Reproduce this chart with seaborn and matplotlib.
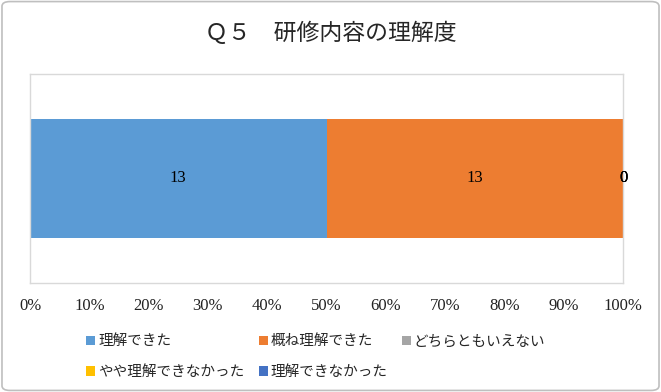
import numpy as np
import pandas as pd
import matplotlib
matplotlib.use("Agg")
import matplotlib.pyplot as plt
from matplotlib.patches import FancyBboxPatch, Patch
import seaborn as sns

# data
categories = ["理解できた", "概ね理解できた", "どちらともいえない", "やや理解できなかった", "理解できなかった"]
counts = [13, 13, 0, 0, 0]
colors = ["#5B9BD5", "#ED7D31", "#A5A5A5", "#FFC000", "#4472C4"]
xticks = [0, 10, 20, 30, 40, 50, 60, 70, 80, 90, 100]
title = "Ｑ５　研修内容の理解度"

sns.set_theme(style="white")
plt.rcParams['font.family'] = ['Liberation Serif', 'Noto Sans CJK JP', 'DejaVu Sans']

total = sum(counts)
df = pd.DataFrame({"label": categories, "count": counts})
df["pct"] = df["count"] / total * 100
df["left"] = df["pct"].cumsum() - df["pct"]
df["row"] = "Q5"

fig = plt.figure(figsize=(6.61, 3.92), dpi=100)
ax = fig.add_axes([30 / 661, 1 - 283 / 392, 593 / 661, 209 / 392])

for i, r in df.iterrows():
    sns.barplot(x=[r["pct"]], y=[r["row"]], orient="h", color=colors[i], saturation=1,
                left=r["left"], width=0.574, ax=ax, linewidth=0)
    ax.bar_label(ax.containers[-1], labels=[str(r["count"])], label_type="center",
                 fontsize=12, color="black")

ax.set_xlim(0, 100)
ax.set_ylim(0.5, -0.5)
ax.set_xticks(xticks)
ax.set_xticklabels([f"{t}%" for t in xticks], fontsize=12, color="#222222")
ax.tick_params(axis="x", length=0, pad=11)
ax.set_yticks([])
ax.set_xlabel("")
ax.set_ylabel("")
for s in ax.spines.values():
    s.set_color("#D9D9D9")
    s.set_linewidth(1)

fig.text(0.5, 1 - 33 / 392, title, ha="center", va="center", fontsize=16.5,
         family=['Noto Sans CJK JP'], color="#262626")

# legend filled row by row (matplotlib fills columns first)
order = [0, 3, 1, 4, 2]
handles = [Patch(facecolor=colors[k], edgecolor="none") for k in order]
labels = [categories[k] for k in order]
fig.legend(handles, labels, ncol=3, loc="upper left",
           bbox_to_anchor=(79 / 661, 1 - 327 / 392), frameon=False,
           prop={"family": "Noto Sans CJK JP", "size": 10.5},
           handlelength=0.6, handleheight=0.6, handletextpad=0.2,
           columnspacing=1.0, labelspacing=1.15, borderpad=0)

border = FancyBboxPatch((0.003, 0.004), 0.994, 0.992, boxstyle="round,pad=0,rounding_size=0.012",
                        transform=fig.transFigure, facecolor="none", edgecolor="#BFBFBF",
                        linewidth=1.2)
fig.patches.append(border)

fig.savefig("out.png", dpi=100)
